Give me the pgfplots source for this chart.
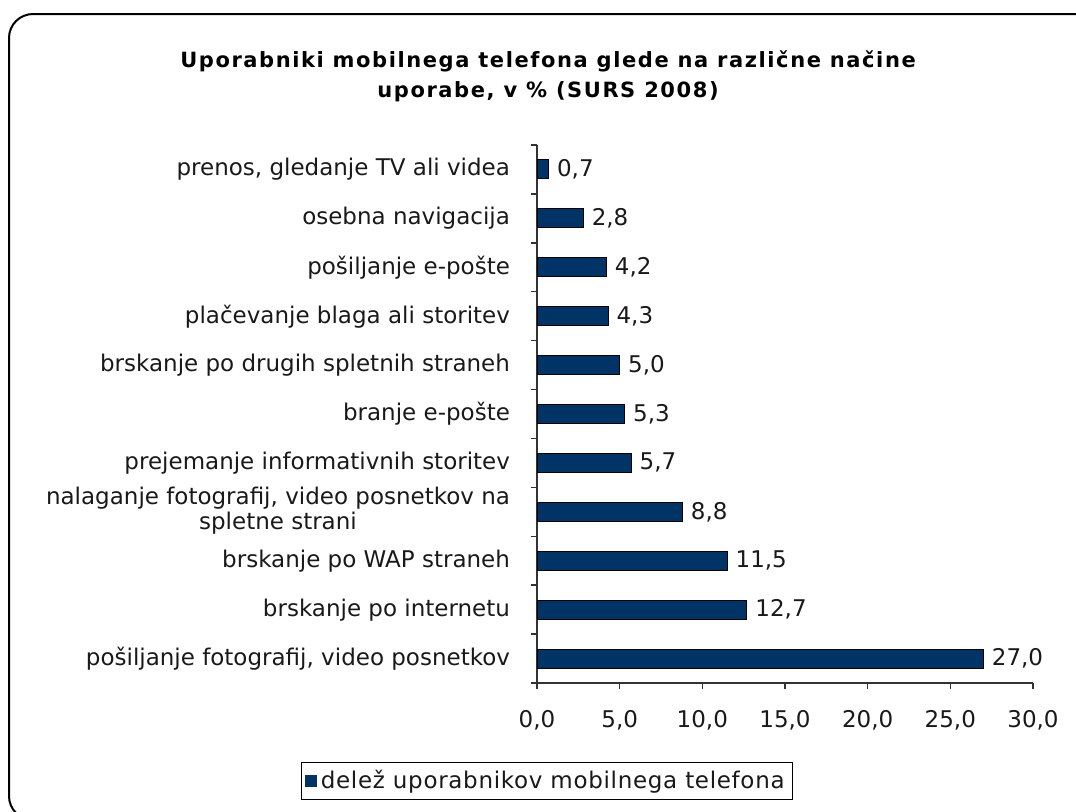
\documentclass[border=0pt]{standalone}
\usepackage{fontspec}
\setmainfont{DejaVu Sans}
\newfontfamily\titlefont[LetterSpace=7.5]{DejaVu Sans}
\newfontfamily\legfont[LetterSpace=3]{DejaVu Sans}
\usepackage{pgfplots}
\pgfplotsset{compat=1.18}
\definecolor{barnavy}{RGB}{0,51,102}
\definecolor{txt}{RGB}{25,25,25}

\begin{document}
\begin{tikzpicture}[font=\fontsize{11.5}{12.5}\selectfont, text=txt]
% page = 1076 x 811 px, 1 px = 0.5 pt, origin top left
\path[use as bounding box] (0,0) rectangle (538pt,-405.5pt);
\draw[line width=1pt, rounded corners=12pt]
  (560pt,-7pt) -- (4.5pt,-7pt) -- (4.5pt,-410pt) -- (560pt,-410pt);

\node[anchor=base, font=\titlefont\fontsize{10.5}{12}\selectfont\bfseries, text=black]
  at (274pt,-33.5pt) {Uporabniki mobilnega telefona glede na različne načine};
\node[anchor=base, font=\titlefont\fontsize{10.5}{12}\selectfont\bfseries, text=black]
  at (274pt,-48.5pt) {uporabe, v \% (SURS 2008)};

\begin{axis}[
  at={(268.5pt,-72.5pt)}, anchor=north west,
  scale only axis, width=248pt, height=269pt,
  xbar, bar width=9.5pt,
  xmin=0, xmax=30, ymin=-0.5, ymax=10.5,
  axis x line*=bottom, axis y line*=left,
  axis line style={line width=0.75pt, black!80},
  tick align=outside,
  major tick length=3pt, minor tick length=3pt,
  tick style={line width=0.75pt, black!80},
  major y tick style={draw=none},
  xtick={0,5,...,30},
  ytick={0,...,10},
  minor ytick={-0.5,0.5,...,10.5},
  yticklabels={
    {pošiljanje fotografij, video posnetkov},
    {brskanje po internetu},
    {brskanje po WAP straneh},
    {\begin{tabular}{@{}c@{}}nalaganje fotografij, video posnetkov na\\spletne strani\end{tabular}},
    {prejemanje informativnih storitev},
    {branje e-pošte},
    {brskanje po drugih spletnih straneh},
    {plačevanje blaga ali storitev},
    {pošiljanje e-pošte},
    {osebna navigacija},
    {prenos, gledanje TV ali videa}},
  yticklabel style={xshift=-7pt},
  xticklabel style={yshift=-7pt},
  /pgf/number format/fixed,
  /pgf/number format/fixed zerofill,
  /pgf/number format/precision=1,
  /pgf/number format/use comma,
  /pgf/number format/assume math mode=true,
  nodes near coords,
  every node near coord/.append style={anchor=west, inner sep=0pt, xshift=4pt},
  legend style={at={(0.0202,-0.182)}, anchor=center, draw=black, line width=0.5pt,
    inner sep=2pt, font=\legfont\fontsize{11.5}{12.5}\selectfont},
  legend image code/.code={\fill[barnavy] (0pt,-2.6pt) rectangle (5.2pt,2.6pt);},
]
\addplot[fill=barnavy, draw=black, line width=0.5pt] coordinates {
  (27.0,0) (12.7,1) (11.5,2) (8.8,3) (5.7,4) (5.3,5)
  (5.0,6) (4.3,7) (4.2,8) (2.8,9) (0.7,10)
};
\addlegendentry{delež uporabnikov mobilnega telefona}
\end{axis}
\end{tikzpicture}
\end{document}
